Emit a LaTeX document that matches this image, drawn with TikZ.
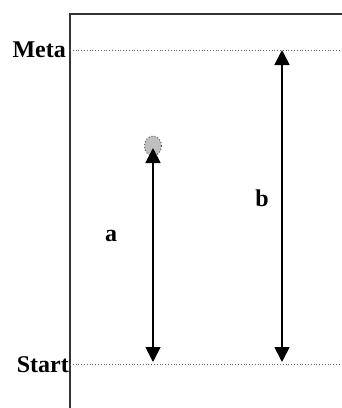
\documentclass[tikz,border=0pt]{standalone}
\usepackage{fontspec}
\setmainfont{Liberation Serif}
\usetikzlibrary{arrows.meta,shapes.geometric}
\begin{document}
\begin{tikzpicture}[x=1pt,y=-1pt,
  frame/.style={draw=black!80,line width=2.2pt},
  level/.style={draw=black!60,line width=0.8pt,dotted},
  dimarrow/.style={draw=black,line width=1.8pt,{Triangle[width=15pt,length=15pt]}-{Triangle[width=15pt,length=15pt]}},
  lbl/.style={font=\fontsize{24}{26}\selectfont\bfseries,inner sep=0pt}]
\useasboundingbox (0,0) rectangle (342,408);
% frame
\coordinate (ftop) at (70,14);
\coordinate (fbot) at (70,408);
\coordinate (fright) at (342,14);
\draw[frame] (fbot) -- (ftop) -- (fright);
% levels
\coordinate (m1) at (70,50);
\coordinate (m2) at (342,50);
\coordinate (s1) at (70,364);
\coordinate (s2) at (342,364);
\draw[level] (m1) -- (m2);
\draw[level] (s1) -- (s2);
\node[lbl,anchor=east] (meta) at (66,50) {Meta};
\node[lbl,anchor=east] (start) at (69,365) {Start};
% ball
\node[draw=black!65,dotted,line width=1pt,fill=black!25,ellipse,minimum width=17pt,minimum height=20pt,inner sep=0pt] (ball) at (153,146) {};
% arrows
\coordinate (atop) at (153,148);
\coordinate (abot) at (153,362);
\draw[dimarrow] (abot) -- (atop);
\coordinate (btop) at (282,50);
\coordinate (bbot) at (282,362);
\draw[dimarrow] (bbot) -- (btop);
\node[lbl] (la) at (111,236) {a};
\node[lbl] (lb) at (262,198) {b};
\end{tikzpicture}
\end{document}
